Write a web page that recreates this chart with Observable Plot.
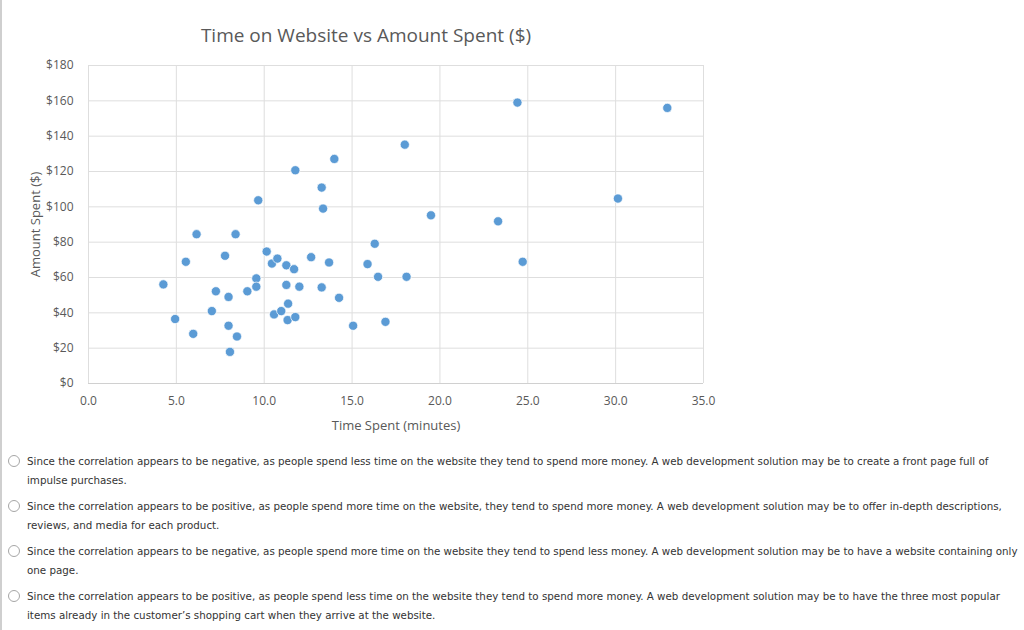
<!DOCTYPE html>
<html>
<head>
<meta charset="utf-8">
<script src="https://cdn.jsdelivr.net/npm/d3@7"></script>
<script src="https://cdn.jsdelivr.net/npm/@observablehq/plot@0.6"></script>
<style>
  html, body { margin: 0; padding: 0; background: #fff; }
  body { width: 1024px; height: 630px; position: relative; overflow: hidden; border-left: 2px solid #cfcfcf; box-sizing: border-box; }
  #title { position: absolute; left: 0; width: 728px; top: 22px; text-align: center; font-family: "Open Sans", sans-serif; font-size: 19px; color: #595959; }
  #chart { position: absolute; left: -4px; top: 50px; }
  .opt { position: absolute; left: 0; font-family: "DejaVu Sans", Verdana, sans-serif; font-size: 10.3px; color: #333; line-height: 19px; white-space: nowrap; }
  .opt .radio { position: absolute; left: 6px; top: 3px; width: 12px; height: 12px; border: 1px solid #a6a6a6; border-radius: 50%; box-sizing: border-box; background: #fff; }
  .opt .txt { position: absolute; left: 25px; top: 0; }
</style>
</head>
<body>
<div id="title">Time on Website vs Amount Spent ($)</div>
<div id="chart"></div>
<div id="opts"></div>
<script>
const times = [4.26, 4.93, 5.54, 5.96, 6.15, 7.02, 7.25, 7.77, 7.97, 7.97,
  8.05, 8.45, 8.37, 9.04, 9.55, 9.55, 9.66, 10.14, 10.44, 10.75,
  10.56, 10.97, 11.26, 11.70, 11.26, 11.36, 11.33, 11.77, 11.77, 12.0,
  12.67, 13.27, 13.35, 13.27, 13.69, 13.99, 14.26, 15.06, 15.88, 16.29,
  16.48, 16.90, 18.0, 18.10, 19.49, 23.31, 24.41, 24.71, 30.13, 32.94];
const amounts = [56.1, 36.5, 68.9, 28.1, 84.5, 41.0, 52.2, 72.3, 49.0, 32.7,
  17.9, 26.6, 84.5, 52.2, 59.5, 54.8, 103.7, 74.7, 67.9, 70.7,
  39.1, 41.0, 66.9, 64.7, 55.8, 45.2, 35.9, 37.6, 120.7, 54.8,
  71.5, 110.9, 99.0, 54.4, 68.5, 127.1, 48.5, 32.7, 67.6, 79.1,
  60.4, 34.9, 135.2, 60.4, 95.2, 91.8, 159.0, 68.9, 104.7, 156.0];
const xTicks = [0, 5, 10, 15, 20, 25, 30, 35];
const yTicks = [0, 20, 40, 60, 80, 100, 120, 140, 160, 180];
const options = [
  ["Since the correlation appears to be negative, as people spend less time on the website they tend to spend more money. A web development solution may be to create a front page full of", "impulse purchases."],
  ["Since the correlation appears to be positive, as people spend more time on the website, they tend to spend more money. A web development solution may be to offer in-depth descriptions,", "reviews, and media for each product."],
  ["Since the correlation appears to be negative, as people spend more time on the website they tend to spend less money. A web development solution may be to have a website containing only", "one page."],
  ["Since the correlation appears to be positive, as people spend less time on the website they tend to spend more money. A web development solution may be to have the three most popular", "items already in the customer\u2019s shopping cart when they arrive at the website."]
];

const data = times.map((t, i) => ({t, a: amounts[i]}));

const chart = Plot.plot({
  width: 740,
  height: 390,
  marginLeft: 90,
  marginRight: 35,
  marginTop: 15,
  marginBottom: 57,
  style: {fontFamily: "Open Sans, sans-serif", fontSize: "11px", color: "#595959", background: "transparent", overflow: "visible"},
  x: {domain: [0, 35], ticks: xTicks, tickFormat: d => d.toFixed(1), tickSize: 0, tickPadding: 13,
      label: "Time Spent (minutes)", labelAnchor: "center", labelOffset: 46, labelArrow: "none"},
  y: {domain: [0, 180], ticks: yTicks, tickFormat: d => "$" + d, tickSize: 0, tickPadding: 15,
      label: "Amount Spent ($)", labelAnchor: "center", labelOffset: 58, labelArrow: "none"},
  marks: [
    Plot.ruleX(xTicks, {x: d => d, stroke: "#dedede", strokeWidth: 1}),
    Plot.ruleY(yTicks, {y: d => d, stroke: "#dedede", strokeWidth: 1}),
    Plot.ruleY([0], {stroke: "#d0d0d0", strokeWidth: 1}),
    Plot.dot(data, {x: "t", y: "a", r: 4.6, fill: "#5b9bd5", stroke: "#ffffff", strokeWidth: 0.7})
  ]
});
chart.querySelectorAll("text").forEach(t => {
  t.style.fontSize = "12px";
  t.textContent = t.textContent.replace(/\s*[→↑←↓]\s*/g, "");
  if (/Time Spent|Amount Spent/.test(t.textContent)) t.style.fontSize = "13px";
});
document.getElementById("chart").appendChild(chart);

const opts = document.getElementById("opts");
options.forEach((lines, i) => {
  const div = document.createElement("div");
  div.className = "opt";
  div.style.top = (452 + i * 45) + "px";
  div.innerHTML = '<span class="radio"></span><span class="txt">' + lines.join("<br>") + '</span>';
  opts.appendChild(div);
});
</script>
</body>
</html>
